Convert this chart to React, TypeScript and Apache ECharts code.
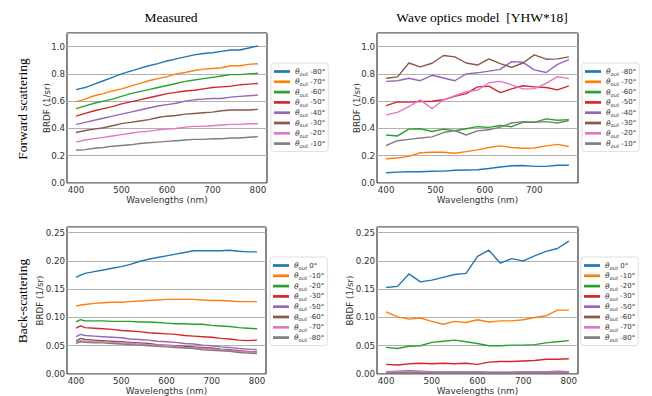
import React, { useEffect, useRef } from "react";
import * as echarts from "echarts";

// ---------- wavelengths ----------
const measFwdWl = [400, 420, 440, 460, 480, 500, 520, 540, 560, 580, 600, 620, 640, 660, 680, 700, 720, 740, 760, 780, 800];
const measBackWl = [400, 410, 420, 440, 460, 480, 500, 520, 540, 560, 580, 600, 620, 640, 660, 680, 700, 720, 740, 760, 780, 800];
const modelFwdWl = [400, 423, 446, 469, 493, 516, 539, 562, 585, 608, 631, 654, 677, 700, 724, 747, 770];
const modelBackWl = [400, 425, 450, 475, 500, 525, 550, 575, 600, 625, 650, 675, 700, 725, 750, 775, 800];

// ---------- legend labels ----------
const fwdAngles = ["-80°", "-70°", "-60°", "-50°", "-40°", "-30°", "-20°", "-10°"];
const backAngles = ["0°", "-10°", "-20°", "-30°", "-50°", "-60°", "-70°", "-80°"];
const colors = ["#1f77b4", "#ff7f0e", "#2ca02c", "#d62728", "#9467bd", "#8c564b", "#e377c2", "#7f7f7f"];

// ---------- measured, forward scattering ----------
const mfM80 = [0.685, 0.70, 0.725, 0.75, 0.775, 0.80, 0.82, 0.84, 0.86, 0.875, 0.895, 0.91, 0.925, 0.94, 0.95, 0.955, 0.965, 0.975, 0.975, 0.99, 1.005];
const mfM70 = [0.595, 0.615, 0.64, 0.655, 0.675, 0.69, 0.71, 0.73, 0.75, 0.765, 0.78, 0.80, 0.81, 0.825, 0.835, 0.84, 0.845, 0.86, 0.86, 0.87, 0.875];
const mfM60 = [0.545, 0.565, 0.585, 0.60, 0.615, 0.635, 0.655, 0.67, 0.685, 0.70, 0.715, 0.73, 0.745, 0.755, 0.765, 0.775, 0.785, 0.795, 0.795, 0.80, 0.805];
const mfM50 = [0.49, 0.51, 0.53, 0.545, 0.56, 0.58, 0.595, 0.61, 0.625, 0.64, 0.655, 0.665, 0.675, 0.68, 0.69, 0.70, 0.705, 0.71, 0.72, 0.725, 0.73];
const mfM40 = [0.43, 0.445, 0.46, 0.475, 0.49, 0.505, 0.52, 0.535, 0.55, 0.565, 0.575, 0.585, 0.60, 0.61, 0.615, 0.62, 0.62, 0.63, 0.635, 0.64, 0.645];
const mfM30 = [0.37, 0.385, 0.395, 0.405, 0.42, 0.435, 0.445, 0.455, 0.465, 0.48, 0.49, 0.495, 0.505, 0.51, 0.515, 0.52, 0.53, 0.535, 0.535, 0.535, 0.54];
const mfM20 = [0.30, 0.315, 0.325, 0.335, 0.345, 0.355, 0.365, 0.375, 0.38, 0.39, 0.395, 0.40, 0.41, 0.415, 0.415, 0.42, 0.425, 0.43, 0.43, 0.435, 0.435];
const mfM10 = [0.24, 0.245, 0.255, 0.26, 0.27, 0.275, 0.28, 0.29, 0.295, 0.30, 0.305, 0.31, 0.315, 0.32, 0.32, 0.325, 0.325, 0.33, 0.33, 0.335, 0.34];

// ---------- wave optics model, forward scattering ----------
const wfM80 = [0.075, 0.08, 0.083, 0.082, 0.086, 0.087, 0.093, 0.095, 0.097, 0.106, 0.117, 0.126, 0.128, 0.122, 0.122, 0.13, 0.13];
const wfM70 = [0.178, 0.183, 0.195, 0.222, 0.225, 0.225, 0.218, 0.23, 0.243, 0.26, 0.272, 0.26, 0.255, 0.257, 0.272, 0.283, 0.268];
const wfM60 = [0.352, 0.345, 0.395, 0.398, 0.378, 0.395, 0.383, 0.398, 0.413, 0.408, 0.422, 0.413, 0.445, 0.445, 0.47, 0.46, 0.465];
const wfM50 = [0.568, 0.595, 0.593, 0.598, 0.60, 0.61, 0.635, 0.655, 0.705, 0.71, 0.663, 0.69, 0.713, 0.705, 0.70, 0.683, 0.712];
const wfM40 = [0.745, 0.75, 0.768, 0.75, 0.79, 0.77, 0.75, 0.80, 0.808, 0.82, 0.833, 0.89, 0.885, 0.83, 0.81, 0.87, 0.905];
const wfM30 = [0.768, 0.778, 0.88, 0.852, 0.878, 0.935, 0.925, 0.88, 0.865, 0.91, 0.875, 0.848, 0.88, 0.94, 0.908, 0.91, 0.925];
const wfM20 = [0.50, 0.518, 0.56, 0.61, 0.545, 0.61, 0.64, 0.67, 0.68, 0.735, 0.745, 0.72, 0.69, 0.69, 0.73, 0.78, 0.765];
const wfM10 = [0.275, 0.31, 0.32, 0.33, 0.338, 0.37, 0.385, 0.352, 0.382, 0.39, 0.41, 0.44, 0.45, 0.445, 0.45, 0.44, 0.458];

// ---------- measured, back-scattering ----------
const mb0 = [0.171, 0.175, 0.178, 0.181, 0.184, 0.187, 0.19, 0.194, 0.199, 0.203, 0.206, 0.209, 0.212, 0.215, 0.218, 0.218, 0.218, 0.218, 0.219, 0.217, 0.216, 0.216];
const mbM10 = [0.120, 0.122, 0.123, 0.125, 0.126, 0.127, 0.127, 0.128, 0.129, 0.130, 0.131, 0.132, 0.132, 0.132, 0.132, 0.131, 0.130, 0.130, 0.129, 0.128, 0.128, 0.128];
const mbM20 = [0.092, 0.096, 0.094, 0.094, 0.094, 0.093, 0.093, 0.093, 0.092, 0.092, 0.091, 0.090, 0.089, 0.089, 0.088, 0.088, 0.086, 0.085, 0.084, 0.082, 0.081, 0.080];
const mbM30 = [0.081, 0.085, 0.082, 0.081, 0.080, 0.079, 0.077, 0.076, 0.075, 0.073, 0.072, 0.071, 0.070, 0.068, 0.067, 0.066, 0.065, 0.063, 0.062, 0.060, 0.059, 0.060];
const mbM50 = [0.066, 0.070, 0.068, 0.067, 0.066, 0.065, 0.064, 0.062, 0.061, 0.060, 0.058, 0.057, 0.056, 0.054, 0.053, 0.051, 0.050, 0.048, 0.047, 0.045, 0.044, 0.043];
const mbM60 = [0.058, 0.063, 0.061, 0.060, 0.059, 0.058, 0.057, 0.056, 0.055, 0.054, 0.052, 0.051, 0.050, 0.049, 0.048, 0.047, 0.046, 0.044, 0.043, 0.041, 0.040, 0.039];
const mbM70 = [0.055, 0.059, 0.058, 0.057, 0.057, 0.056, 0.055, 0.054, 0.053, 0.052, 0.051, 0.050, 0.049, 0.047, 0.046, 0.045, 0.044, 0.043, 0.041, 0.040, 0.039, 0.038];
const mbM80 = [0.054, 0.057, 0.056, 0.055, 0.055, 0.054, 0.053, 0.052, 0.051, 0.050, 0.049, 0.048, 0.047, 0.046, 0.045, 0.043, 0.042, 0.041, 0.040, 0.038, 0.037, 0.036];

// ---------- wave optics model, back-scattering ----------
const wb0 = [0.153, 0.155, 0.177, 0.163, 0.166, 0.171, 0.176, 0.178, 0.208, 0.219, 0.196, 0.204, 0.200, 0.209, 0.217, 0.222, 0.235];
const wbM10 = [0.110, 0.101, 0.097, 0.099, 0.093, 0.088, 0.093, 0.091, 0.096, 0.092, 0.094, 0.094, 0.096, 0.100, 0.103, 0.113, 0.113];
const wbM20 = [0.047, 0.045, 0.049, 0.050, 0.056, 0.058, 0.060, 0.057, 0.054, 0.050, 0.050, 0.051, 0.051, 0.052, 0.055, 0.057, 0.059];
const wbM30 = [0.017, 0.016, 0.018, 0.019, 0.018, 0.019, 0.018, 0.019, 0.017, 0.021, 0.022, 0.022, 0.023, 0.024, 0.026, 0.026, 0.027];
const wbM50 = [0.004, 0.005, 0.006, 0.005, 0.004, 0.004, 0.004, 0.004, 0.004, 0.003, 0.003, 0.003, 0.004, 0.004, 0.004, 0.005, 0.004];
const wbM60 = [0.002, 0.002, 0.003, 0.002, 0.002, 0.002, 0.002, 0.002, 0.002, 0.002, 0.002, 0.002, 0.002, 0.002, 0.002, 0.002, 0.002];
const wbM70 = [0.003, 0.004, 0.004, 0.004, 0.003, 0.003, 0.003, 0.003, 0.003, 0.003, 0.003, 0.003, 0.003, 0.003, 0.003, 0.003, 0.003];
const wbM80 = [0.002, 0.002, 0.002, 0.002, 0.002, 0.002, 0.002, 0.002, 0.002, 0.002, 0.002, 0.002, 0.002, 0.002, 0.002, 0.002, 0.002];

const xTickValues = [400, 500, 600, 700, 800];

export default function App() {
  const ref = useRef<HTMLDivElement>(null);

  useEffect(() => {
    document.body.style.margin = "0";
    if (!ref.current) return;
    const chart = echarts.init(ref.current, null, { renderer: "svg" });

    const panels = [
      { id: "tl", wl: measFwdWl, vals: [mfM80, mfM70, mfM60, mfM50, mfM40, mfM30, mfM20, mfM10], angles: fwdAngles },
      { id: "tr", wl: modelFwdWl, vals: [wfM80, wfM70, wfM60, wfM50, wfM40, wfM30, wfM20, wfM10], angles: fwdAngles },
      { id: "bl", wl: measBackWl, vals: [mb0, mbM10, mbM20, mbM30, mbM50, mbM60, mbM70, mbM80], angles: backAngles },
      { id: "br", wl: modelBackWl, vals: [wb0, wbM10, wbM20, wbM30, wbM50, wbM60, wbM70, wbM80], angles: backAngles },
    ];

    const grids = [
      { left: 67, top: 33, width: 200, height: 150 },
      { left: 377, top: 33, width: 201, height: 150 },
      { left: 67, top: 227, width: 199, height: 149 },
      { left: 377, top: 227, width: 201, height: 149 },
    ].map((g) => ({ ...g, show: true, borderColor: "#111", borderWidth: 1, backgroundColor: "transparent", containLabel: false }));

    const xRanges = [
      [380, 820],
      [381.5, 788.5],
      [380, 820],
      [380, 820],
    ];

    const tickFont = { color: "#333", fontSize: 8.7, fontFamily: "DejaVu Sans" };

    const xAxes = grids.map((_, i) => ({
      type: "value",
      gridIndex: i,
      min: xRanges[i][0],
      max: xRanges[i][1],
      name: "Wavelengths (nm)",
      nameLocation: "middle",
      nameGap: 12,
      nameMoveOverlap: false,
      nameTextStyle: { ...tickFont, fontSize: 8.9 },
      axisLine: { show: false },
      axisTick: { show: false, customValues: xTickValues },
      axisLabel: { ...tickFont, margin: 2, customValues: xTickValues, formatter: (v: number) => String(v) },
      splitLine: { show: false },
    }));

    const yAxes = grids.map((_, i) => {
      const top = i < 2;
      return {
        type: "value",
        gridIndex: i,
        min: 0,
        max: top ? 1.1 : 0.26,
        interval: top ? 0.2 : 0.05,
        name: "BRDF (1/sr)",
        nameLocation: "middle",
        nameGap: top ? 16 : 23,
        nameMoveOverlap: false,
        nameTextStyle: { ...tickFont, fontSize: 8.7 },
        axisLine: { show: false },
        axisTick: { show: false },
        axisLabel: {
          ...tickFont,
          margin: 2,
          showMaxLabel: false,
          formatter: (v: number) => (top ? v.toFixed(1) : v.toFixed(2)),
        },
        splitLine: { show: true, lineStyle: { color: "#b0b0b0", width: 1 } },
      };
    });

    const series: any[] = [];
    panels.forEach((p, pi) => {
      p.vals.forEach((arr, si) => {
        series.push({
          type: "line",
          name: `${p.id}:${p.angles[si]}`,
          xAxisIndex: pi,
          yAxisIndex: pi,
          data: p.wl.map((w, j) => [w, arr[j]]),
          symbol: "none",
          showSymbol: false,
          lineStyle: { width: 1.4, color: colors[si] },
          itemStyle: { color: colors[si] },
          emphasis: { disabled: true },
        });
      });
    });

    const legendPos = [
      { left: 271, top: 63 },
      { left: 582, top: 63 },
      { left: 270, top: 257 },
      { left: 581, top: 257 },
    ];

    const legends = panels.map((p, pi) => ({
      ...legendPos[pi],
      orient: "vertical",
      data: p.angles.map((a) => `${p.id}:${a}`),
      icon: "rect",
      itemWidth: 16,
      itemHeight: 2.7,
      itemGap: 0.3,
      padding: [3.5, 3, 3, 3],
      borderColor: "#d6d6d6",
      borderWidth: 0.8,
      borderRadius: 3,
      backgroundColor: "#fff",
      selectedMode: false,
      formatter: (name: string) => `{t|θ}{s|out}{n| ${name.split(":")[1]}}`,
      textStyle: {
        color: "#333",
        fontSize: 7,
        fontFamily: "DejaVu Sans",
        lineHeight: 10,
        rich: {
          t: { fontSize: 7.5, fontStyle: "italic", fontFamily: "DejaVu Sans", color: "#333", lineHeight: 10 },
          s: { fontSize: 5.2, fontStyle: "italic", fontFamily: "DejaVu Sans", color: "#333", lineHeight: 6, verticalAlign: "bottom" },
          n: { fontSize: 7, fontFamily: "DejaVu Sans", color: "#333", lineHeight: 10 },
        },
      },
    }));

    const serif = '"Liberation Serif", "Times New Roman", serif';
    const graphic = [
      { type: "text", x: 171, y: 17, style: { text: "Measured", font: `13.5px ${serif}`, fill: "#000", align: "center", verticalAlign: "middle" } },
      { type: "text", x: 482, y: 17, style: { text: "Wave optics model  [YHW*18]", font: `13.5px ${serif}`, fill: "#000", align: "center", verticalAlign: "middle" } },
      { type: "text", x: 22, y: 109, rotation: Math.PI / 2, style: { text: "Forward scattering", font: `13.5px ${serif}`, fill: "#000", align: "center", verticalAlign: "middle" } },
      { type: "text", x: 22, y: 301, rotation: Math.PI / 2, style: { text: "Back-scattering", font: `13.5px ${serif}`, fill: "#000", align: "center", verticalAlign: "middle" } },
    ];

    chart.setOption({
      animation: false,
      backgroundColor: "#fff",
      grid: grids,
      xAxis: xAxes,
      yAxis: yAxes,
      legend: legends,
      series,
      graphic,
    });

    return () => chart.dispose();
  }, []);

  return <div ref={ref} style={{ width: 652, height: 396 }} />;
}
